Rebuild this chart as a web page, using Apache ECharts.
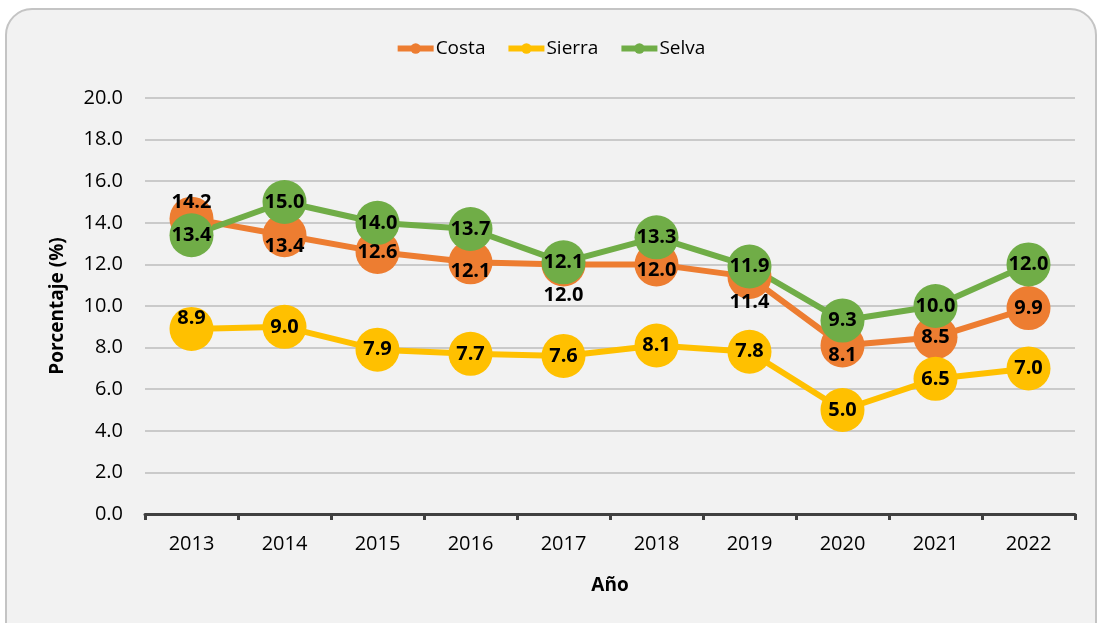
<!DOCTYPE html>
<html>
<head>
<meta charset="utf-8">
<script src="https://cdn.jsdelivr.net/npm/echarts@6/dist/echarts.min.js"></script>
<style>
html, body { margin: 0; padding: 0; background: #fff; }
#main { width: 1100px; height: 623px; }
</style>
</head>
<body>
<div id="main"></div>
<script>
var years = ['2013', '2014', '2015', '2016', '2017', '2018', '2019', '2020', '2021', '2022'];
var costa = [14.2, 13.4, 12.6, 12.1, 12.0, 12.0, 11.4, 8.1, 8.5, 9.9];
var sierra = [8.9, 9.0, 7.9, 7.7, 7.6, 8.1, 7.8, 5.0, 6.5, 7.0];
var selva = [13.4, 15.0, 14.0, 13.7, 12.1, 13.3, 11.9, 9.3, 10.0, 12.0];

// label nudges (pixels), like the hand placed labels in the original
var costaShift = { 0: -16, 1: 11, 3: 9, 4: 31, 5: 6, 6: 25, 7: 10 };
var sierraShift = { 0: -11 };

var fontFam = "'Open Sans', 'Noto Sans', sans-serif";

function withShift(values, shift) {
	return values.map(function (v, i) {
		if (shift[i] === undefined) return v;
		return { value: v, label: { offset: [0, shift[i]] } };
	});
}

function makeSeries(name, values, color, shift) {
	return {
		name: name,
		type: 'line',
		data: withShift(values, shift),
		symbol: 'circle',
		symbolSize: 44,
		itemStyle: { color: color },
		lineStyle: { color: color, width: 6 },
		label: {
			show: true,
			position: 'inside',
			color: '#000',
			fontWeight: 'bold',
			fontSize: 20,
			fontFamily: fontFam,
			formatter: function (p) { return p.value.toFixed(1); }
		},
		emphasis: { disabled: true },
		animation: false
	};
}

var chart = echarts.init(document.getElementById('main'));
chart.setOption({
	backgroundColor: '#fff',
	graphic: [{
		type: 'rect',
		z: -10,
		shape: { x: 6, y: 9, width: 1090, height: 660, r: 26 },
		style: { fill: '#f2f2f2', stroke: '#c4c4c4', lineWidth: 2 }
	}],
	legend: {
		top: 34,
		left: 'center',
		itemWidth: 36,
		itemHeight: 13,
		itemGap: 20,
		lineStyle: { width: 6 },
		textStyle: { fontSize: 19, color: '#000', fontFamily: fontFam, padding: [0, 0, 0, -3] },
		data: ['Costa', 'Sierra', 'Selva']
	},
	grid: { left: 145, right: 25, top: 98, bottom: 109 },
	xAxis: {
		type: 'category',
		data: years,
		boundaryGap: true,
		axisLine: { lineStyle: { color: '#404040', width: 3 } },
		axisTick: { show: true, inside: false, length: 6, lineStyle: { color: '#404040', width: 3 } },
		axisLabel: { fontSize: 20, color: '#000', margin: 20, fontFamily: fontFam },
		name: 'Año',
		nameLocation: 'middle',
		nameGap: 62,
		nameTextStyle: { fontSize: 19, fontWeight: 'bold', color: '#000', fontFamily: fontFam }
	},
	yAxis: {
		type: 'value',
		min: 0,
		max: 20,
		interval: 2,
		axisLine: { show: false },
		axisTick: { show: false },
		splitLine: { lineStyle: { color: '#bdbdbd', width: 1.5 } },
		axisLabel: {
			fontSize: 20, color: '#000', margin: 22, fontFamily: fontFam,
			formatter: function (v) { return v.toFixed(1); }
		},
		name: 'Porcentaje (%)',
		nameLocation: 'middle',
		nameGap: 78,
		nameTextStyle: { fontSize: 19, fontWeight: 'bold', color: '#000', fontFamily: fontFam }
	},
	series: [
		makeSeries('Costa', costa, '#ed7d31', costaShift),
		makeSeries('Sierra', sierra, '#ffc000', sierraShift),
		makeSeries('Selva', selva, '#70ad47', {})
	]
});
</script>
</body>
</html>
